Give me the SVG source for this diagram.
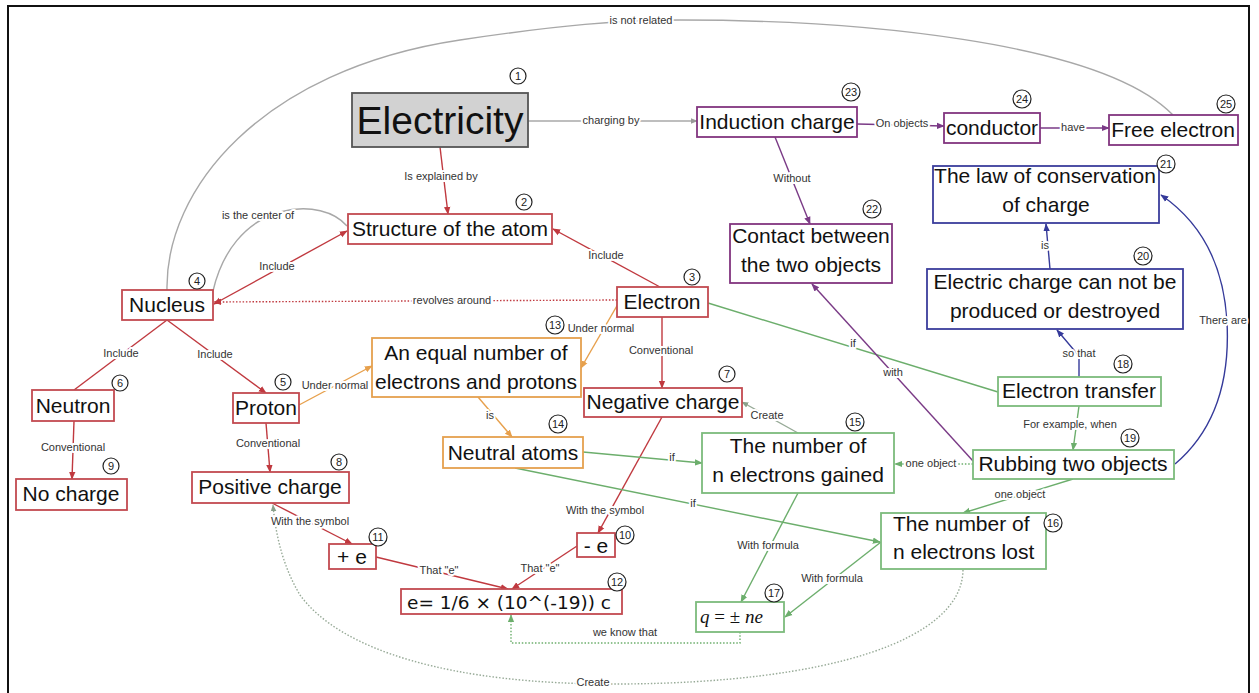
<svg xmlns="http://www.w3.org/2000/svg" width="1259" height="693" viewBox="0 0 1259 693">
  <style>
    .node text { font-family: "Liberation Sans", Arial, sans-serif; font-size: 21px; fill: #111; text-anchor: middle; }
    .box { fill: #fff; stroke-width: 1.8; }
    .red { stroke: #c24a50; }
    .org { stroke: #e5a04e; }
    .grn { stroke: #7cbb7c; }
    .pur { stroke: #82357f; }
    .blu { stroke: #3b3d9c; }
    .num circle { fill: #fff; stroke: #222; stroke-width: 1.2; }
    .num text { font-family: "Liberation Sans", Arial, sans-serif; font-size: 11px; fill: #222; text-anchor: middle; }
    .edges path { fill: none; stroke-width: 1.4; }
    .lr { stroke: #c0393f; }
    .lo { stroke: #e7a04c; }
    .lg { stroke: #6cae6c; }
    .lp { stroke: #7a3a86; }
    .lb { stroke: #353a9a; }
    .lx { stroke: #a8a8a8; }
    .lgx { stroke: #97aa97; }
    .dot { stroke-dasharray: 1.5 1.8; }
    .lbl { font-family: "Liberation Sans", Arial, sans-serif; font-size: 11px; fill: #333; text-anchor: middle;
           stroke: #fff; stroke-width: 4; paint-order: stroke; stroke-linejoin: round; }
  </style>
  <defs>
    <marker id="aR" viewBox="0 0 10 10" refX="9" refY="5" markerWidth="8" markerHeight="8" markerUnits="userSpaceOnUse" orient="auto-start-reverse"><path d="M0,1 L10,5 L0,9 z" fill="#c0393f"/></marker>
    <marker id="aO" viewBox="0 0 10 10" refX="9" refY="5" markerWidth="8" markerHeight="8" markerUnits="userSpaceOnUse" orient="auto"><path d="M0,1 L10,5 L0,9 z" fill="#e7a04c"/></marker>
    <marker id="aG" viewBox="0 0 10 10" refX="9" refY="5" markerWidth="8" markerHeight="8" markerUnits="userSpaceOnUse" orient="auto"><path d="M0,1 L10,5 L0,9 z" fill="#6cae6c"/></marker>
    <marker id="aP" viewBox="0 0 10 10" refX="9" refY="5" markerWidth="8" markerHeight="8" markerUnits="userSpaceOnUse" orient="auto"><path d="M0,1 L10,5 L0,9 z" fill="#7a3a86"/></marker>
    <marker id="aB" viewBox="0 0 10 10" refX="9" refY="5" markerWidth="8" markerHeight="8" markerUnits="userSpaceOnUse" orient="auto"><path d="M0,1 L10,5 L0,9 z" fill="#353a9a"/></marker>
    <marker id="aX" viewBox="0 0 10 10" refX="9" refY="5" markerWidth="7" markerHeight="7" markerUnits="userSpaceOnUse" orient="auto"><path d="M0,1 L10,5 L0,9 z" fill="#999"/></marker>
    <marker id="aGX" viewBox="0 0 10 10" refX="9" refY="5" markerWidth="7" markerHeight="7" markerUnits="userSpaceOnUse" orient="auto"><path d="M0,1 L10,5 L0,9 z" fill="#8aa08a"/></marker>
  </defs>

  <rect width="1259" height="693" fill="#fff"/>
  <!-- outer frame -->
  <rect x="8" y="6" width="1241" height="710" fill="none" stroke="#111" stroke-width="2"/>

  <!-- connectors -->
  <g id="connectors" class="edges">
    <!-- grey links -->
    <path class="lx" d="M528,121 L697,121" marker-end="url(#aX)"/>
    <path class="lx" d="M167,290 C165,190 260,70 460,40 C560,25 620,20 680,20 C850,20 1100,40 1173,115"/>
    <path class="lx" d="M213,291 C222,252 245,222 280,212 C310,204 335,212 347,226"/>
    <!-- red links -->
    <path class="lr" d="M440,147 L448,214" marker-end="url(#aR)"/>
    <path class="lr" d="M660,287 L553,229" marker-end="url(#aR)"/>
    <path class="lr" d="M347,231 L214,304" marker-start="url(#aR)" marker-end="url(#aR)"/>
    <path class="lr dot" d="M617,300 L214,302" marker-end="url(#aR)"/>
    <path class="lr" d="M167,320 L74,390"/>
    <path class="lr" d="M167,320 L266,393" marker-end="url(#aR)"/>
    <path class="lr" d="M74,421 L72,479" marker-end="url(#aR)"/>
    <path class="lr" d="M266,423 L270,472" marker-end="url(#aR)"/>
    <path class="lr" d="M662,317 L662,388" marker-end="url(#aR)"/>
    <path class="lr" d="M662,417 L598,533" marker-end="url(#aR)"/>
    <path class="lr" d="M272,503 L352,544" marker-end="url(#aR)"/>
    <path class="lr" d="M376,557 L508,589" marker-end="url(#aR)"/>
    <path class="lr" d="M577,546 L512,589" marker-end="url(#aR)"/>
    <!-- orange links -->
    <path class="lo" d="M299,405 L372,366" marker-end="url(#aO)"/>
    <path class="lo" d="M618,304 L581,368" marker-end="url(#aO)"/>
    <path class="lo" d="M478,397 L512,437" marker-end="url(#aO)"/>
    <!-- green links -->
    <path class="lg" d="M708,303 L998,392"/>
    <path class="lg" d="M583,452 L702,463" marker-end="url(#aG)"/>
    <path class="lg" d="M515,468 L880,542" marker-end="url(#aG)"/>
    <path class="lgx" d="M798,433 L742,402" marker-end="url(#aGX)"/>
    <path class="lg" d="M798,493 L741,602" marker-end="url(#aG)"/>
    <path class="lg" d="M881,542 L785,617" marker-end="url(#aG)"/>
    <path class="lg dot" d="M740,632 L740,643 L511,643 L511,615" marker-end="url(#aG)"/>
    <path class="lg dot" d="M973,464 L895,464" marker-end="url(#aG)"/>
    <path class="lg" d="M1073,479 L963,513" marker-end="url(#aG)"/>
    <path class="lg" d="M1079,406 L1073,450" marker-end="url(#aG)"/>
    <path class="lgx dot" d="M963,570 C962,640 830,683 620,684 C450,685 340,650 300,595 C285,570 276,540 273,505" marker-end="url(#aGX)"/>
    <!-- purple links -->
    <path class="lp" d="M775,137 L810,224" marker-end="url(#aP)"/>
    <path class="lp" d="M857,124 L944,126" marker-end="url(#aP)"/>
    <path class="lp" d="M1040,128 L1109,128" marker-end="url(#aP)"/>
    <path class="lp" d="M973,461 L812,284" marker-end="url(#aP)"/>
    <!-- blue links -->
    <path class="lb" d="M1079,377 L1079,356 L1057,330" marker-end="url(#aB)"/>
    <path class="lb" d="M1050,269 L1046,224" marker-end="url(#aB)"/>
    <path class="lb" d="M1175,464 C1215,430 1230,380 1227,322 C1224,270 1205,225 1161,195" marker-end="url(#aB)"/>

    <!-- link labels -->
    <text class="lbl" x="611" y="124">charging by</text>
    <text class="lbl" x="641" y="24">is not related</text>
    <text class="lbl" x="258" y="219">is the center of</text>
    <text class="lbl" x="441" y="180">Is explained by</text>
    <text class="lbl" x="606" y="259">Include</text>
    <text class="lbl" x="277" y="270">Include</text>
    <text class="lbl" x="452" y="304">revolves around</text>
    <text class="lbl" x="121" y="357">Include</text>
    <text class="lbl" x="215" y="358">Include</text>
    <text class="lbl" x="73" y="451">Conventional</text>
    <text class="lbl" x="268" y="447">Conventional</text>
    <text class="lbl" x="661" y="354">Conventional</text>
    <text class="lbl" x="605" y="514">With the symbol</text>
    <text class="lbl" x="310" y="525">With the symbol</text>
    <text class="lbl" x="439" y="574">That "e"</text>
    <text class="lbl" x="540" y="572">That "e"</text>
    <text class="lbl" x="335" y="389">Under normal</text>
    <text class="lbl" x="601" y="332">Under normal</text>
    <text class="lbl" x="490" y="419">is</text>
    <text class="lbl" x="853" y="347">if</text>
    <text class="lbl" x="672" y="461">if</text>
    <text class="lbl" x="693" y="507">if</text>
    <text class="lbl" x="767" y="419">Create</text>
    <text class="lbl" x="768" y="549">With formula</text>
    <text class="lbl" x="832" y="582">With formula</text>
    <text class="lbl" x="625" y="636">we know that</text>
    <text class="lbl" x="931" y="467">one object</text>
    <text class="lbl" x="1020" y="498">one object</text>
    <text class="lbl" x="1070" y="428">For example, when</text>
    <text class="lbl" x="593" y="686">Create</text>
    <text class="lbl" x="792" y="182">Without</text>
    <text class="lbl" x="902" y="127">On objects</text>
    <text class="lbl" x="1073" y="131">have</text>
    <text class="lbl" x="893" y="376">with</text>
    <text class="lbl" x="1079" y="357">so that</text>
    <text class="lbl" x="1045" y="249">is</text>
    <text class="lbl" x="1223" y="324">There are</text>
  </g>

  <!-- nodes -->
  <g id="n1" class="node">
    <rect x="352" y="93" width="176" height="54" fill="#d2d2d2" stroke="#555" stroke-width="1.8"/>
    <text x="440" y="134" style="font-size:39px">Electricity</text>
  </g>
  <g id="n2" class="node">
    <rect class="box red" x="348" y="214" width="204" height="30"/>
    <text x="450" y="236">Structure of the atom</text>
  </g>
  <g id="n3" class="node">
    <rect class="box red" x="617" y="287" width="91" height="30"/>
    <text x="662" y="309">Electron</text>
  </g>
  <g id="n4" class="node">
    <rect class="box red" x="122" y="290" width="91" height="30"/>
    <text x="167" y="312">Nucleus</text>
  </g>
  <g id="n5" class="node">
    <rect class="box red" x="233" y="393" width="66" height="30"/>
    <text x="266" y="415">Proton</text>
  </g>
  <g id="n6" class="node">
    <rect class="box red" x="32" y="390" width="82" height="31"/>
    <text x="73" y="413">Neutron</text>
  </g>
  <g id="n7" class="node">
    <rect class="box red" x="584" y="388" width="158" height="29"/>
    <text x="663" y="409">Negative charge</text>
  </g>
  <g id="n8" class="node">
    <rect class="box red" x="192" y="472" width="157" height="31"/>
    <text x="270" y="494">Positive charge</text>
  </g>
  <g id="n9" class="node">
    <rect class="box red" x="16" y="479" width="111" height="31"/>
    <text x="71" y="501">No charge</text>
  </g>
  <g id="n10" class="node">
    <rect class="box red" x="577" y="533" width="38" height="24"/>
    <text x="596" y="553">- e</text>
  </g>
  <g id="n11" class="node">
    <rect class="box red" x="329" y="544" width="47" height="25"/>
    <text x="352" y="564">+ e</text>
  </g>
  <g id="n12" class="node">
    <rect class="box red" x="401" y="589" width="221" height="25"/>
    <text x="509" y="609" style="font-family:'DejaVu Sans',sans-serif;font-size:18.5px">e= 1/6 × (10^(-19)) c</text>
  </g>
  <g id="n13" class="node">
    <rect class="box org" x="372" y="338" width="209" height="59"/>
    <text x="476" y="360">An equal number of</text>
    <text x="476" y="389">electrons and protons</text>
  </g>
  <g id="n14" class="node">
    <rect class="box org" x="443" y="437" width="140" height="31"/>
    <text x="513" y="460">Neutral atoms</text>
  </g>
  <g id="n15" class="node">
    <rect class="box grn" x="702" y="433" width="192" height="60"/>
    <text x="798" y="453">The number of</text>
    <text x="798" y="482">n electrons gained</text>
  </g>
  <g id="n16" class="node">
    <rect class="box grn" x="881" y="513" width="165" height="56"/>
    <text x="893" y="531" style="text-anchor:start">The number of</text>
    <text x="893" y="559" style="text-anchor:start">n electrons lost</text>
  </g>
  <g id="n17" class="node">
    <rect class="box grn" x="696" y="602" width="88" height="30"/>
    <text x="700" y="623" style="text-anchor:start;font-family:'Liberation Serif',serif;font-size:19px"><tspan font-style="italic">q</tspan> = ± <tspan font-style="italic">ne</tspan></text>
  </g>
  <g id="n18" class="node">
    <rect class="box grn" x="998" y="377" width="163" height="29"/>
    <text x="1079" y="398">Electron transfer</text>
  </g>
  <g id="n19" class="node">
    <rect class="box grn" x="973" y="450" width="201" height="29"/>
    <text x="1073" y="471">Rubbing two objects</text>
  </g>
  <g id="n20" class="node">
    <rect class="box blu" x="927" y="269" width="256" height="60"/>
    <text x="1055" y="289">Electric charge can not be</text>
    <text x="1055" y="318">produced or destroyed</text>
  </g>
  <g id="n21" class="node">
    <rect class="box blu" x="933" y="166" width="226" height="57"/>
    <text x="1045" y="183">The law of conservation</text>
    <text x="1046" y="212">of charge</text>
  </g>
  <g id="n22" class="node">
    <rect class="box pur" x="730" y="224" width="162" height="59"/>
    <text x="811" y="243">Contact between</text>
    <text x="811" y="272">the two objects</text>
  </g>
  <g id="n23" class="node">
    <rect class="box pur" x="697" y="107" width="160" height="30"/>
    <text x="777" y="129">Induction charge</text>
  </g>
  <g id="n24" class="node">
    <rect class="box pur" x="944" y="113" width="96" height="30"/>
    <text x="992" y="135">conductor</text>
  </g>
  <g id="n25" class="node">
    <rect class="box pur" x="1109" y="115" width="129" height="30"/>
    <text x="1173" y="137">Free electron</text>
  </g>

  <!-- order numbers -->
  <g id="numbers" class="num">
    <g><circle cx="518" cy="76" r="8"/><text x="518" y="80">1</text></g>
    <g><circle cx="524" cy="202" r="8"/><text x="524" y="206">2</text></g>
    <g><circle cx="692" cy="277" r="8"/><text x="692" y="281">3</text></g>
    <g><circle cx="197" cy="281" r="8"/><text x="197" y="285">4</text></g>
    <g><circle cx="283" cy="382" r="8"/><text x="283" y="386">5</text></g>
    <g><circle cx="120" cy="383" r="8"/><text x="120" y="387">6</text></g>
    <g><circle cx="727" cy="374" r="8"/><text x="727" y="378">7</text></g>
    <g><circle cx="339" cy="462" r="8"/><text x="339" y="466">8</text></g>
    <g><circle cx="111" cy="466" r="8"/><text x="111" y="470">9</text></g>
    <g><circle cx="625" cy="535" r="9"/><text x="625" y="539">10</text></g>
    <g><circle cx="378" cy="537" r="9"/><text x="378" y="541">11</text></g>
    <g><circle cx="617" cy="582" r="9"/><text x="617" y="586">12</text></g>
    <g><circle cx="555" cy="325" r="9"/><text x="555" y="329">13</text></g>
    <g><circle cx="558" cy="424" r="9"/><text x="558" y="428">14</text></g>
    <g><circle cx="855" cy="422" r="9"/><text x="855" y="426">15</text></g>
    <g><circle cx="1053" cy="523" r="9"/><text x="1053" y="527">16</text></g>
    <g><circle cx="774" cy="593" r="9"/><text x="774" y="597">17</text></g>
    <g><circle cx="1123" cy="364" r="9"/><text x="1123" y="368">18</text></g>
    <g><circle cx="1130" cy="438" r="9"/><text x="1130" y="442">19</text></g>
    <g><circle cx="1143" cy="256" r="9"/><text x="1143" y="260">20</text></g>
    <g><circle cx="1166" cy="164" r="9"/><text x="1166" y="168">21</text></g>
    <g><circle cx="872" cy="209" r="9"/><text x="872" y="213">22</text></g>
    <g><circle cx="851" cy="92" r="9"/><text x="851" y="96">23</text></g>
    <g><circle cx="1022" cy="99" r="9"/><text x="1022" y="103">24</text></g>
    <g><circle cx="1226" cy="104" r="9"/><text x="1226" y="108">25</text></g>
  </g>
</svg>
